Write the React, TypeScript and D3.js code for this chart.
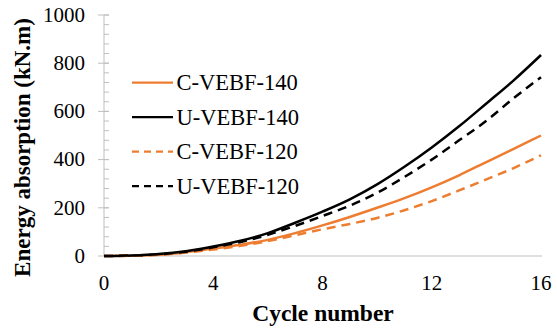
import React from "react";
import * as d3 from "d3";

const cycles = [0, 1, 2, 3, 4, 5, 6, 7, 8, 9, 10, 11, 12, 13, 14, 15, 16];
const cVebf140 = [0, 1, 5, 16, 31, 47, 67, 95, 127, 162, 200, 240, 285, 335, 390, 445, 500];
const uVebf140 = [0, 2, 8, 20, 39, 63, 95, 138, 184, 235, 297, 370, 450, 538, 633, 729, 834];
const cVebf120 = [0, 1, 5, 14, 27, 42, 62, 86, 111, 133, 158, 190, 228, 272, 318, 365, 418];
const uVebf120 = [0, 2, 7, 18, 36, 58, 88, 125, 166, 209, 262, 328, 400, 480, 561, 655, 742];

const xTicks = [0, 4, 8, 12, 16];
const yTicks = [0, 200, 400, 600, 800, 1000];
const yMinorTicks = d3.range(0, 1001, 40);

const seriesNames = ["C-VEBF-140", "U-VEBF-140", "C-VEBF-120", "U-VEBF-120"];
const seriesValues = [cVebf140, uVebf140, cVebf120, uVebf120];
const seriesColors = ["#ED7D31", "#000000", "#ED7D31", "#000000"];
const seriesDashed = [false, false, true, true];

const W = 557;
const H = 328;
const FONT = "'Liberation Serif', 'Tinos', 'DejaVu Serif', serif";

export default function App() {
  const x = d3.scaleLinear().domain([0, 16]).range([104, 541]);
  const y = d3.scaleLinear().domain([0, 1000]).range([256, 15]);
  const line = d3
    .line<number>()
    .x((_, i) => x(cycles[i]))
    .y((d) => y(d))
    .curve(d3.curveMonotoneX);

  const axisColor = "#bfbfbf";
  const legendX0 = 132;
  const legendX1 = 173;
  const legendY0 = 82.7;
  const legendStep = 34.5;
  const ts = { fontFamily: FONT };

  return (
    <svg
      width={W}
      height={H}
      style={{ position: "absolute", left: 0, top: 0, background: "#fff", fontFamily: FONT }}
    >
      <rect x={0} y={0} width={W} height={H} fill="#fff" />
      {/* y axis */}
      <line x1={x(0)} x2={x(0)} y1={y(0)} y2={y(1000)} stroke={axisColor} strokeWidth={1} />
      {yMinorTicks.map((t) => (
        <line key={"m" + t} x1={x(0)} x2={x(0) + 5} y1={y(t)} y2={y(t)} stroke={axisColor} strokeWidth={1} />
      ))}
      {yTicks.map((t) => (
        <line key={"M" + t} x1={x(0) - 6} x2={x(0) + 5} y1={y(t)} y2={y(t)} stroke={axisColor} strokeWidth={1} />
      ))}
      {/* x axis */}
      <line x1={x(0)} x2={x(16) + 1} y1={y(0)} y2={y(0)} stroke={axisColor} strokeWidth={1} />

      {yTicks.map((t) => (
        <text key={"yl" + t} x={85} y={y(t) + 6.8} textAnchor="end" fontSize={21} fill="#000" style={ts}>
          {t}
        </text>
      ))}
      {xTicks.map((t) => (
        <text key={"xl" + t} x={x(t)} y={290} textAnchor="middle" fontSize={21} fill="#000" style={ts}>
          {t}
        </text>
      ))}

      <text x={323} y={321} textAnchor="middle" fontSize={23.5} fontWeight="bold" fill="#000" style={ts}>
        Cycle number
      </text>
      <text
        transform={`translate(30,147.5) rotate(-90)`}
        textAnchor="middle"
        fontSize={23}
        fontWeight="bold"
        fill="#000"
        style={ts}
      >
        Energy absorption (kN.m)
      </text>

      {seriesValues.map((vals, i) => (
        <path
          key={"s" + i}
          d={line(vals) || ""}
          fill="none"
          stroke={seriesColors[i]}
          strokeWidth={2.5}
          strokeDasharray={seriesDashed[i] ? "9,6" : undefined}
          strokeLinejoin="round"
        />
      ))}

      {seriesNames.map((name, i) => (
        <g key={"lg" + i}>
          <line
            x1={legendX0}
            x2={legendX1}
            y1={legendY0 + i * legendStep}
            y2={legendY0 + i * legendStep}
            stroke={seriesColors[i]}
            strokeWidth={2.25}
            strokeDasharray={seriesDashed[i] ? "7,5" : undefined}
          />
          <text x={legendX1 + 3.5} y={legendY0 + i * legendStep + 7.5} fontSize={22.5} fill="#000" style={ts}>
            {name}
          </text>
        </g>
      ))}
    </svg>
  );
}
